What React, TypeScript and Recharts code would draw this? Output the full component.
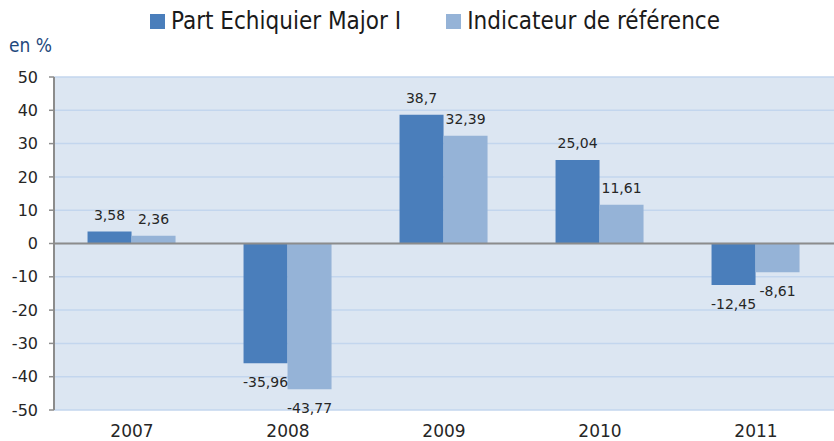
import React from "react";
import { BarChart, Bar, XAxis, YAxis, CartesianGrid, ReferenceLine, Legend, LabelList } from "recharts";

const years = ["2007", "2008", "2009", "2010", "2011"];
const fundValues = [3.58, -35.96, 38.7, 25.04, -12.45];
const benchValues = [2.36, -43.77, 32.39, 11.61, -8.61];
const seriesNames = ["Part Echiquier Major I", "Indicateur de référence"];
const seriesColors = ["#4a7ebb", "#95b3d7"];
const yTicks = [-50, -40, -30, -20, -10, 0, 10, 20, 30, 40, 50];
const unitLabel = "en %";

const data = years.map((y, i) => ({ year: y, fund: fundValues[i], bench: benchValues[i] }));

const fmt = (v: number) => String(v).replace(".", ",");

const ValueLabel = (props: any) => {
  const { x, y, width, height, value } = props;
  const top = Math.min(y, y + height);
  const bottom = Math.max(y, y + height);
  const cx = x + width / 2;
  const by = value >= 0 ? top - 12 : bottom + 24;
  return (
    <text x={cx} y={by} textAnchor="middle" fontSize={14} fill="#262626" fontFamily="DejaVu Sans">
      {fmt(value)}
    </text>
  );
};

const condensed = "'DejaVu Sans Condensed', 'Liberation Sans Narrow', 'Open Sans'";

const LegendContent = () => (
  <div style={{ display: "flex", justifyContent: "center", fontFamily: condensed, fontSize: 24, color: "#1a1a1a", paddingLeft: 36 }}>
    {seriesNames.map((n, i) => (
      <div key={n} style={{ display: "flex", alignItems: "center", marginRight: i === 0 ? 45 : 0 }}>
        <span style={{ display: "inline-block", width: 15, height: 15, background: seriesColors[i], marginRight: 6 }} />
        <span>{n}</span>
      </div>
    ))}
  </div>
);

export default function App() {
  return (
    <div style={{ position: "absolute", left: 0, top: 0, width: 834, height: 441, background: "#fff" }}>
      <div style={{ position: "absolute", left: 9, top: 34, fontFamily: condensed, fontSize: 19, color: "#1f497d" }}>
        {unitLabel}
      </div>
      <BarChart
        width={834}
        height={441}
        data={data}
        margin={{ top: 37, right: 0, bottom: 0, left: 0 }}
        barCategoryGap="21.5%"
        barGap={0}
      >
        <CartesianGrid horizontal vertical={false} fill="#dce6f2" stroke="#c3d6ee" strokeWidth={1.5} />
        <Legend verticalAlign="top" height={40} wrapperStyle={{ top: 7 }} content={<LegendContent />} />
        <XAxis
          dataKey="year"
          axisLine={false}
          tickLine={false}
          height={31}
          tickMargin={9}
          tick={{ fontSize: 17, fill: "#262626", fontFamily: "DejaVu Sans" }}
        />
        <YAxis
          width={54}
          domain={[-50, 50]}
          ticks={yTicks}
          interval={0}
          axisLine={{ stroke: "#8c8c8c", strokeWidth: 2 }}
          tickLine={{ stroke: "#8c8c8c", strokeWidth: 1.5 }}
          tickSize={5}
          tickMargin={11}
          tick={{ fontSize: 16, fill: "#262626", fontFamily: "DejaVu Sans" }}
        />
        <ReferenceLine y={0} stroke="#8c8c8c" strokeWidth={2} />
        <Bar dataKey="fund" name={seriesNames[0]} fill={seriesColors[0]} isAnimationActive={false}>
          <LabelList dataKey="fund" content={<ValueLabel />} />
        </Bar>
        <Bar dataKey="bench" name={seriesNames[1]} fill={seriesColors[1]} isAnimationActive={false}>
          <LabelList dataKey="bench" content={<ValueLabel />} />
        </Bar>
      </BarChart>
    </div>
  );
}
